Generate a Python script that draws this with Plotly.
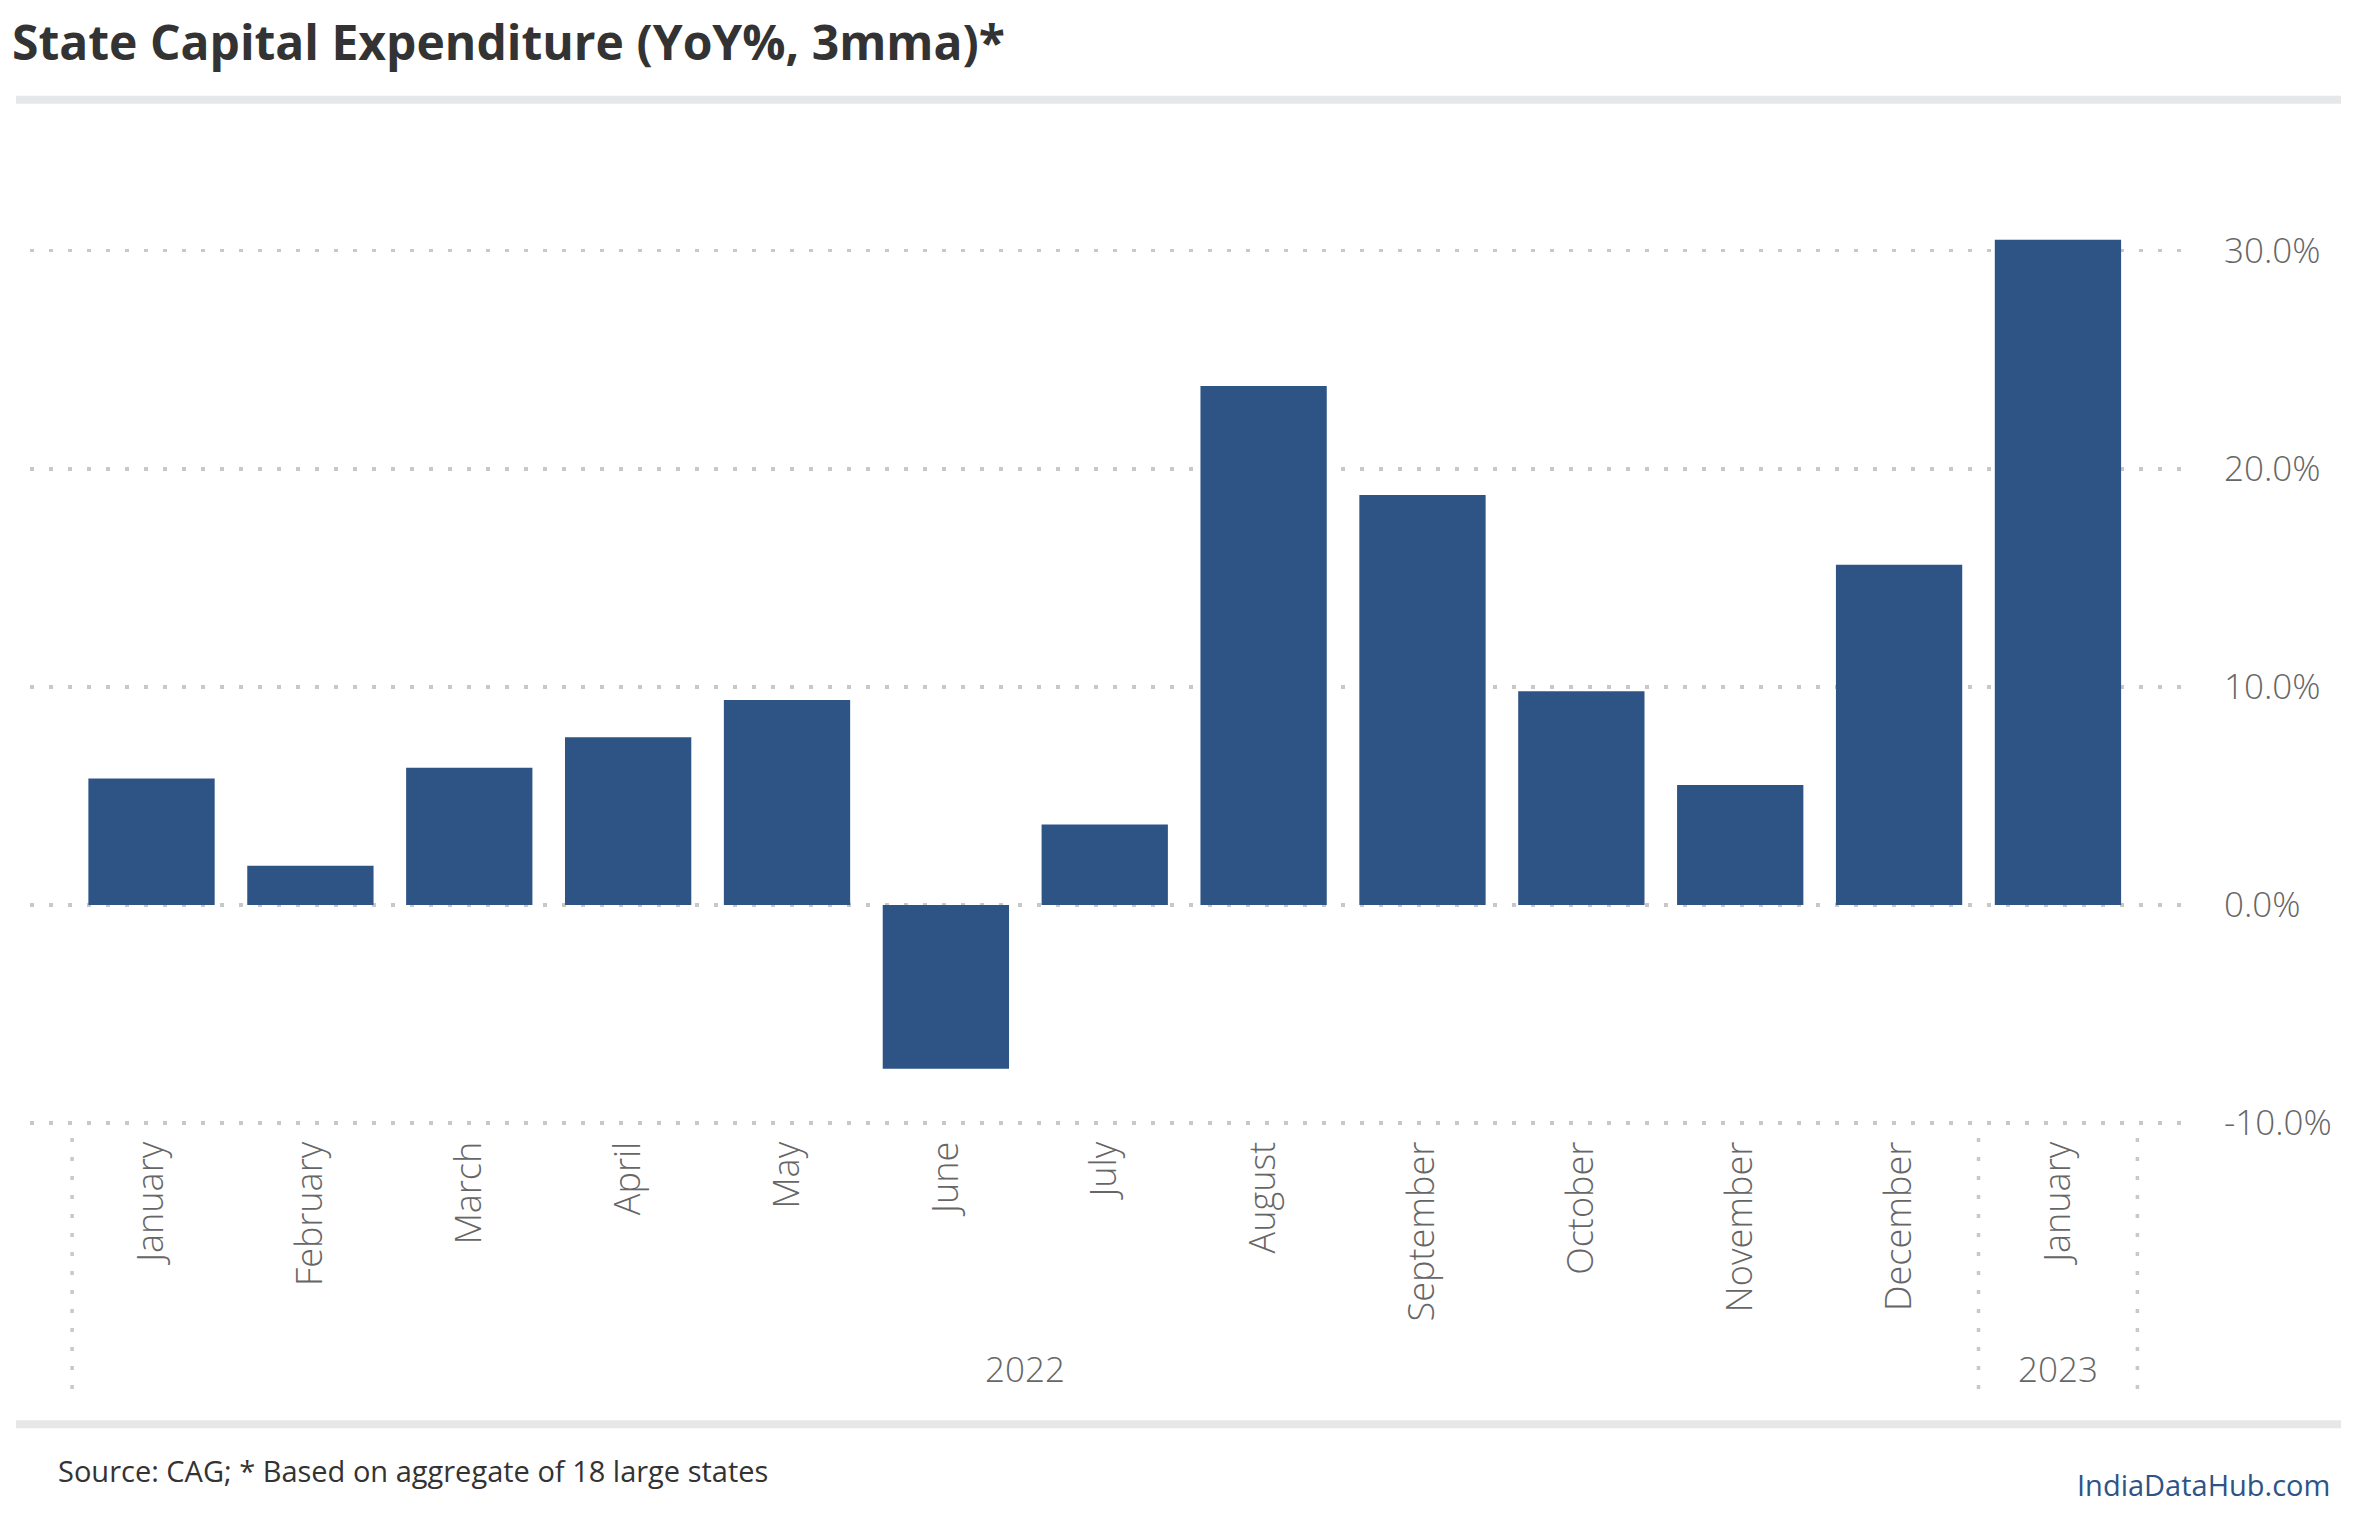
import plotly.graph_objects as go

# ---- data ----
months = ["January", "February", "March", "April", "May", "June", "July",
          "August", "September", "October", "November", "December", "January"]
years = ["2022"] * 12 + ["2023"]
capex_yoy = [5.8, 1.8, 6.3, 7.7, 9.4, -7.5, 3.7, 23.8, 18.8, 9.8, 5.5, 15.6, 30.5]
y_ticks = [-10, 0, 10, 20, 30]
y_tick_text = [f"{v:.1f}%" for v in y_ticks]

title_text = "State Capital Expenditure (YoY%, 3mma)*"
source_text = "Source: CAG; * Based on aggregate of 18 large states"
brand_text = "IndiaDataHub.com"

W, H = 2354, 1540
BAR = "#2E5486"
GRID = "#C8C8C8"
LABEL = "#666666"
FONT = "Open Sans"

x_idx = list(range(len(months)))

fig = go.Figure()
fig.add_trace(go.Bar(x=x_idx, y=capex_yoy, marker=dict(color=BAR, line=dict(width=0)),
                     hoverinfo="skip"))


def px_x(p):
    return p / W


def px_y(p):
    return 1 - p / H


fig.update_layout(
    width=W, height=H, autosize=False,
    margin=dict(l=0, r=0, t=0, b=0),
    paper_bgcolor="white", plot_bgcolor="white",
    showlegend=False, bargap=0.205,
    font=dict(family=FONT, color=LABEL),
    xaxis=dict(
        domain=[px_x(30), px_x(2186)],
        range=[-0.765, 12.806],
        tickmode="array", tickvals=x_idx, ticktext=months,
        tickangle=-90, tickfont=dict(family=FONT, size=36, color=LABEL, weight=300),
        ticks="outside", ticklen=1, tickcolor="rgba(0,0,0,0)",
        showgrid=False, zeroline=False, showline=False, fixedrange=True,
    ),
    yaxis=dict(
        domain=[px_y(1140.2), px_y(143.5)],
        range=[-10.1, 35],
        side="right",
        tickmode="array", tickvals=y_ticks, ticktext=y_tick_text,
        tickfont=dict(family=FONT, size=35, color=LABEL, weight=300),
        ticks="outside", ticklen=30, tickcolor="rgba(0,0,0,0)",
        showgrid=True, gridcolor=GRID, gridwidth=3.5, griddash="4px,15px",
        zeroline=False, showline=False, fixedrange=True,
    ),
)

shapes = []
# horizontal rules
for y0, y1 in [(97, 105), (1439, 1447)]:
    shapes.append(dict(type="rect", xref="paper", yref="paper",
                       x0=px_x(16), x1=px_x(2341), y0=px_y(y1), y1=px_y(y0),
                       fillcolor="#E6E7E9", line=dict(width=0), layer="below"))
# year group separators
unique_years = []
for yv in years:
    if yv not in unique_years:
        unique_years.append(yv)
bounds = [-0.5]
for yv in unique_years:
    idxs = [i for i, v in enumerate(years) if v == yv]
    bounds.append(max(idxs) + 0.5)
for b in bounds:
    shapes.append(dict(type="line", xref="x", yref="paper", x0=b, x1=b,
                       y0=px_y(1153), y1=px_y(1414),
                       line=dict(color=GRID, width=3.5, dash="4px,15px")))
fig.update_layout(shapes=shapes)

annotations = [
    dict(text=title_text, xref="paper", yref="paper", x=px_x(10), y=px_y(42),
         xanchor="left", yanchor="middle", showarrow=False,
         font=dict(family=FONT, size=48, color="#333333", weight=700)),
    dict(text=source_text, xref="paper", yref="paper", x=px_x(56), y=px_y(1490),
         xanchor="left", yanchor="middle", showarrow=False,
         font=dict(family=FONT, size=29, color="#333333")),
    dict(text=brand_text, xref="paper", yref="paper", x=px_x(2332), y=px_y(1504),
         xanchor="right", yanchor="middle", showarrow=False,
         font=dict(family=FONT, size=29, color=BAR)),
]
for yv in unique_years:
    idxs = [i for i, v in enumerate(years) if v == yv]
    annotations.append(dict(text=yv, xref="x", yref="paper",
                            x=sum(idxs) / len(idxs), y=px_y(1386),
                            xanchor="center", yanchor="middle", showarrow=False,
                            font=dict(family=FONT, size=35, color=LABEL, weight=300)))
fig.update_layout(annotations=annotations)

fig.write_html("out.html", config={"displayModeBar": False, "staticPlot": True},
               post_script="document.body.style.margin='0';document.body.style.overflow='hidden';")
